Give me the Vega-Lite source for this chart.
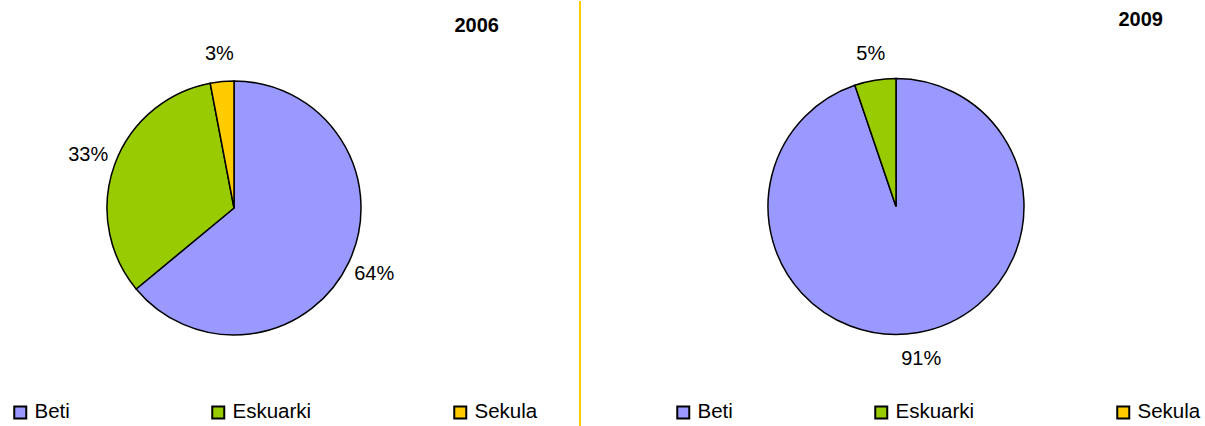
{
  "$schema": "https://vega.github.io/schema/vega-lite/v6.json",
  "padding": 0,
  "autosize": {"type": "pad"},
  "bounds": "flush",
  "spacing": 112,
  "background": "white",
  "config": {"view": {"stroke": null}, "font": "Liberation Sans"},
  "datasets": {
    "y2006": [
      {"cat": "Beti", "value": 64, "label": "64%"},
      {"cat": "Eskuarki", "value": 33, "label": "33%"},
      {"cat": "Sekula", "value": 3, "label": "3%"}
    ],
    "y2009": [
      {"cat": "Beti", "value": 91, "label": "91%"},
      {"cat": "Eskuarki", "value": 5, "label": "5%"}
    ]
  },
  "resolve": {"scale": {"color": "independent"}, "legend": {"color": "independent"}},
  "hconcat": [
    {
      "width": 468,
      "height": 426,
      "data": {"name": "y2006"},
      "title": {"text": "2006", "anchor": "end", "frame": "group", "orient": "top", "offset": -51, "baseline": "alphabetic", "dx": 31, "fontSize": 20, "fontWeight": "bold", "font": "Liberation Sans", "color": "black"},
      "encoding": {
        "theta": {"field": "value", "type": "quantitative", "stack": true},
        "color": {
          "field": "cat", "type": "nominal",
          "scale": {"domain": ["Beti", "Eskuarki", "Sekula"], "range": ["#9999FF", "#99CC00", "#FFCC00"]},
          "legend": {"title": null, "orient": "none", "legendX": 10, "legendY": 401, "direction": "horizontal", "symbolType": "square", "symbolSize": 144, "symbolStrokeColor": "black", "symbolStrokeWidth": 2, "labelFontSize": 20.5, "labelFont": "Liberation Sans", "labelColor": "black", "labelOffset": 4, "columnPadding": 138, "padding": 0}
        },
        "order": {"field": "cat", "type": "nominal", "sort": "ascending"}
      },
      "layer": [
        {
          "mark": {"type": "arc", "outerRadius": 127, "stroke": "black", "strokeWidth": 1.5, "yOffset": -6}
        },
        {
          "mark": {"type": "text", "radius": 155, "fontSize": 20, "yOffset": -6, "font": "Liberation Sans"},
          "encoding": {
            "fill": {"value": "black"},
            "text": {"field": "label", "type": "nominal"}
          }
        }
      ]
    },
    {
      "width": 625,
      "height": 426,
      "data": {"name": "y2009"},
      "title": {"text": "2009", "anchor": "end", "frame": "group", "orient": "top", "offset": -46, "baseline": "alphabetic", "dx": -42, "fontSize": 20, "fontWeight": "bold", "font": "Liberation Sans", "color": "black"},
      "layer": [
        {
          "mark": {"type": "rule", "color": "#FFCC00", "strokeWidth": 2},
          "encoding": {"x": {"value": 0}}
        },
        {
          "encoding": {
            "theta": {"field": "value", "type": "quantitative", "stack": true},
            "color": {
              "field": "cat", "type": "nominal",
              "scale": {"domain": ["Beti", "Eskuarki", "Sekula"], "range": ["#9999FF", "#99CC00", "#FFCC00"]},
              "legend": {"title": null, "orient": "none", "legendX": 93, "legendY": 401, "direction": "horizontal", "symbolType": "square", "symbolSize": 144, "symbolStrokeColor": "black", "symbolStrokeWidth": 2, "labelFontSize": 20.5, "labelFont": "Liberation Sans", "labelColor": "black", "labelOffset": 4, "columnPadding": 138, "padding": 0}
            },
            "order": {"field": "cat", "type": "nominal", "sort": "ascending"}
          },
          "layer": [
            {
              "mark": {"type": "arc", "outerRadius": 128, "stroke": "black", "strokeWidth": 1.5, "xOffset": 3.5, "yOffset": -7.5}
            },
            {
              "mark": {"type": "text", "radius": 155, "fontSize": 20, "xOffset": 3.5, "yOffset": -7.5, "font": "Liberation Sans"},
              "encoding": {
                "fill": {"value": "black"},
                "text": {"field": "label", "type": "nominal"}
              }
            }
          ]
        }
      ]
    }
  ]
}
